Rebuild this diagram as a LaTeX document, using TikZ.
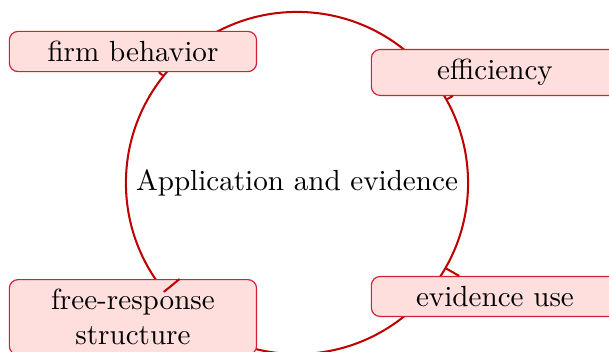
\documentclass[tikz,border=0pt]{standalone}
\definecolor{hubred}{HTML}{BF0000}
\definecolor{leafedge}{HTML}{D42030}
\tikzset{
  hub/.style={circle, draw=hubred, line width=0.7pt, minimum size=4.13cm,
              inner sep=0pt, align=center},
  leafbox/.style={draw=leafedge, line width=0.4pt, fill=red!13, rounded corners=3pt,
                  text width=2.75cm, align=center},
  link/.style={line width=0.7pt, color=hubred}}
\begin{document}
\begin{tikzpicture}
    \useasboundingbox (-3.585,-2.040) rectangle (3.766,2.209);
    \node[hub] (hub) at (0,0) {Application and evidence};
    \node[leafbox] (firm) at (-1.98,1.587) {firm behavior};
    \node[leafbox] (eff) at (2.39,1.334) {efficiency};
    \node[leafbox] (use) at (2.39,-1.37) {evidence use};
    \node[leafbox] (frs) at (-1.98,-1.62) {free-response structure};
    \draw[link] (hub) -- (firm);
    \draw[link] (hub) -- (eff);
    \draw[link] (hub) -- (use);
    \draw[link] (hub) -- (frs);
  \end{tikzpicture}
\end{document}
